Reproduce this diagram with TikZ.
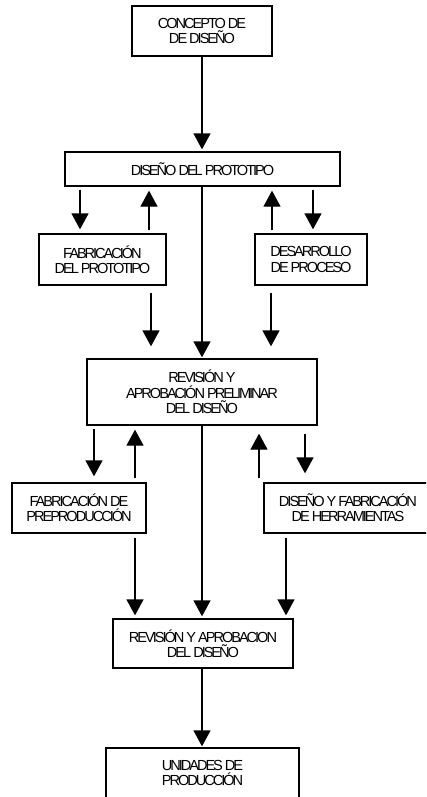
\documentclass[tikz,border=0pt]{standalone}
\usepackage{fontspec}
\setmainfont{Liberation Sans}[LetterSpace=-14]
\usetikzlibrary{arrows.meta}
\tikzset{
  box/.style={draw, line width=1.3pt, rectangle, inner sep=0pt, align=center,
    font=\fontsize{14.6}{15.3}\selectfont},
  arr/.style={line width=1.3pt, -{Triangle[width=17pt,length=16pt]}},
}
\begin{document}
\begin{tikzpicture}[x=1pt,y=-1pt]
\useasboundingbox (0,0) rectangle (426,797);
\clip (0,0) rectangle (426,797);
% nodes
\node[box, minimum width=140, minimum height=50] (concepto) at (202,31) {CONCEPTO DE\\DE DISEÑO};
\node[box, minimum width=275, minimum height=34] (proto) at (202.5,169) {DISEÑO DEL PROTOTIPO};
\node[box, minimum width=127, minimum height=51] (fabproto) at (102.5,259.5) {FABRICACIÓN\\DEL PROTOTIPO};
\node[box, minimum width=112, minimum height=51] (desarrollo) at (311,259.5) {DESARROLLO\\DE PROCESO};
\node[box, minimum width=230, minimum height=66] (revprelim) at (202,392) {REVISIÓN Y\\APROBACIÓN PRELIMINAR\\DEL DISEÑO};
\node[box, minimum width=134, minimum height=50] (fabpre) at (79,508) {FABRICACIÓN DE\\PREPRODUCCIÓN};
\node[box, minimum width=168, minimum height=50] (herr) at (348,508) {DISEÑO Y FABRICACIÓN\\DE HERRAMIENTAS};
\node[box, minimum width=180, minimum height=49] (revfinal) at (203,643.5) {REVISIÓN Y APROBACION\\DEL DISEÑO};
\node[box, minimum width=193, minimum height=50] (unidades) at (202.5,773) {UNIDADES DE\\PRODUCCIÓN};
% columns
\coordinate (cM) at (202,0);
\coordinate (c80) at (80,0);
\coordinate (c149) at (149,0);
\coordinate (c151) at (151,0);
\coordinate (c272) at (272,0);
\coordinate (c271) at (271,0);
\coordinate (c313) at (313,0);
\coordinate (c94) at (94,0);
\coordinate (c135) at (135,0);
\coordinate (c259) at (259,0);
\coordinate (c305) at (305,0);
\coordinate (c286) at (286,0);
% connectors
\draw[arr, shorten >=2pt] (concepto.south -| cM) -- (proto.north -| cM);
\draw[arr, shorten <=3pt, shorten >=4pt] (proto.south -| c80) -- (fabproto.north -| c80);
\draw[arr, shorten <=3pt, shorten >=4pt] (fabproto.north -| c149) -- (proto.south -| c149);
\draw[arr, shorten <=3pt, shorten >=4pt] (desarrollo.north -| c272) -- (proto.south -| c272);
\draw[arr, shorten <=3pt, shorten >=4pt] (proto.south -| c313) -- (desarrollo.north -| c313);
\draw[arr, shorten <=7pt, shorten >=12pt] (fabproto.south -| c151) -- (revprelim.north -| c151);
\draw[arr, shorten <=7pt, shorten >=12pt] (desarrollo.south -| c271) -- (revprelim.north -| c271);
\draw[arr, shorten >=1pt] (proto.south -| cM) -- (revprelim.north -| cM);
\draw[arr, shorten <=3pt, shorten >=6pt] (revprelim.south -| c94) -- (fabpre.north -| c94);
\draw[arr, shorten <=4pt, shorten >=4pt] (fabpre.north -| c135) -- (revprelim.south -| c135);
\draw[arr, shorten <=4pt, shorten >=8pt] (herr.north -| c259) -- (revprelim.south -| c259);
\draw[arr, shorten <=8pt, shorten >=9pt] (revprelim.south -| c305) -- (herr.north -| c305);
\draw[arr, shorten <=4pt, shorten >=3pt] (fabpre.south -| c135) -- (revfinal.north -| c135);
\draw[arr, shorten >=2pt] (revprelim.south -| cM) -- (revfinal.north -| cM);
\draw[arr, shorten <=4pt, shorten >=3pt] (herr.south -| c286) -- (revfinal.north -| c286);
\draw[arr, shorten >=1pt] (revfinal.south -| cM) -- (unidades.north -| cM);
\end{tikzpicture}
\end{document}
